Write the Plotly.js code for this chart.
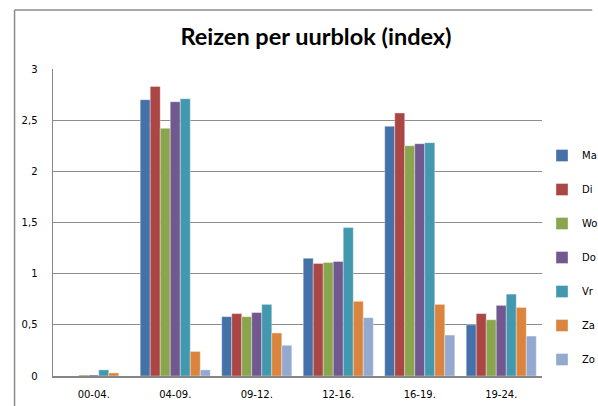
<!DOCTYPE html>
<html>
<head>
<meta charset="utf-8">
<script src="https://cdn.plot.ly/plotly-3.0.1.min.js"></script>
<style>
html,body{margin:0;padding:0;background:#fff;}
#chart{width:598px;height:406px;}
</style>
</head>
<body>
<div id="chart"></div>
<script>
const categories = ["00-04.", "04-09.", "09-12.", "12-16.", "16-19.", "19-24."];
const seriesNames = ["Ma", "Di", "Wo", "Do", "Vr", "Za", "Zo"];
const ma = [0.00, 2.70, 0.58, 1.15, 2.44, 0.50];
const di = [0.00, 2.83, 0.61, 1.10, 2.57, 0.61];
const wo = [0.01, 2.42, 0.58, 1.11, 2.25, 0.55];
const dO = [0.01, 2.68, 0.62, 1.12, 2.27, 0.69];
const vr = [0.06, 2.71, 0.70, 1.45, 2.28, 0.80];
const za = [0.03, 0.24, 0.42, 0.73, 0.70, 0.67];
const zo = [0.00, 0.06, 0.30, 0.57, 0.40, 0.39];
const yTicks = [0, 0.5, 1, 1.5, 2, 2.5, 3];
const yTickText = ["0", "0,5", "1", "1,5", "2", "2,5", "3"];

const seriesValues = [ma, di, wo, dO, vr, za, zo];
const colors = ["#4571A9", "#AA4744", "#89A54E", "#71588F", "#4298AF", "#DB843D", "#93A9CF"];

const traces = seriesNames.map((n, i) => ({
  type: "bar",
  name: n,
  x: categories,
  y: seriesValues[i],
  legendgroup: "g" + i,
  marker: {color: colors[i], line: {color: "rgba(255,255,255,0.6)", width: 0.6}},
  hoverinfo: "x+y+name"
}));

const L = 53, R = 549, T = 69, B = 376, W = 598, H = 406;
const pw = R - L, ph = B - T;
const px = v => (v - L) / pw;
const py = v => (B - v) / ph;

const layout = {
  width: W, height: H,
  margin: {l: L, r: W - R, t: T, b: H - B, pad: 0},
  paper_bgcolor: "#ffffff",
  plot_bgcolor: "#ffffff",
  title: {
    text: "<b>Reizen per uurblok (index)</b>",
    font: {family: "Lato, 'Open Sans', sans-serif", size: 23.5, color: "#000"},
    x: 316 / W, xanchor: "center",
    y: 1 - 37 / H, yanchor: "middle"
  },
  barmode: "group",
  bargap: 0.14,
  bargroupgap: 0,
  showlegend: true,
  legend: {
    xref: "container", yref: "container",
    x: 542 / W, xanchor: "left",
    y: 1 - 141 / H, yanchor: "top",
    font: {family: "'DejaVu Sans', Verdana, sans-serif", size: 10, color: "#000"},
    tracegroupgap: 15,
    itemwidth: 30,
    maxheight: 400,
    bgcolor: "rgba(0,0,0,0)"
  },
  xaxis: {
    type: "category",
    showgrid: false,
    showline: true,
    linecolor: "#868686",
    linewidth: 1.5,
    ticks: "",
    tickfont: {family: "'DejaVu Sans', Verdana, sans-serif", size: 10, color: "#000"},
    ticklabelstandoff: 8,
    fixedrange: true
  },
  yaxis: {
    range: [0, 3],
    tickvals: yTicks,
    ticktext: yTickText,
    showgrid: true,
    gridcolor: "#8c8c8c",
    gridwidth: 1,
    zeroline: false,
    showline: true,
    linecolor: "#868686",
    linewidth: 1.5,
    ticks: "",
    tickfont: {family: "'DejaVu Sans', Verdana, sans-serif", size: 10, color: "#000"},
    ticklabelstandoff: 12,
    fixedrange: true
  },
  shapes: [
    {type: "line", xref: "paper", yref: "paper", x0: px(14), x1: px(600), y0: py(10), y1: py(10), line: {color: "#8a8a8a", width: 1.5}},
    {type: "line", xref: "paper", yref: "paper", x0: px(14), x1: px(14), y0: py(10), y1: py(408), line: {color: "#8a8a8a", width: 1.5}}
  ]
};

Plotly.newPlot("chart", traces, layout, {displayModeBar: false, staticPlot: true});
</script>
</body>
</html>
